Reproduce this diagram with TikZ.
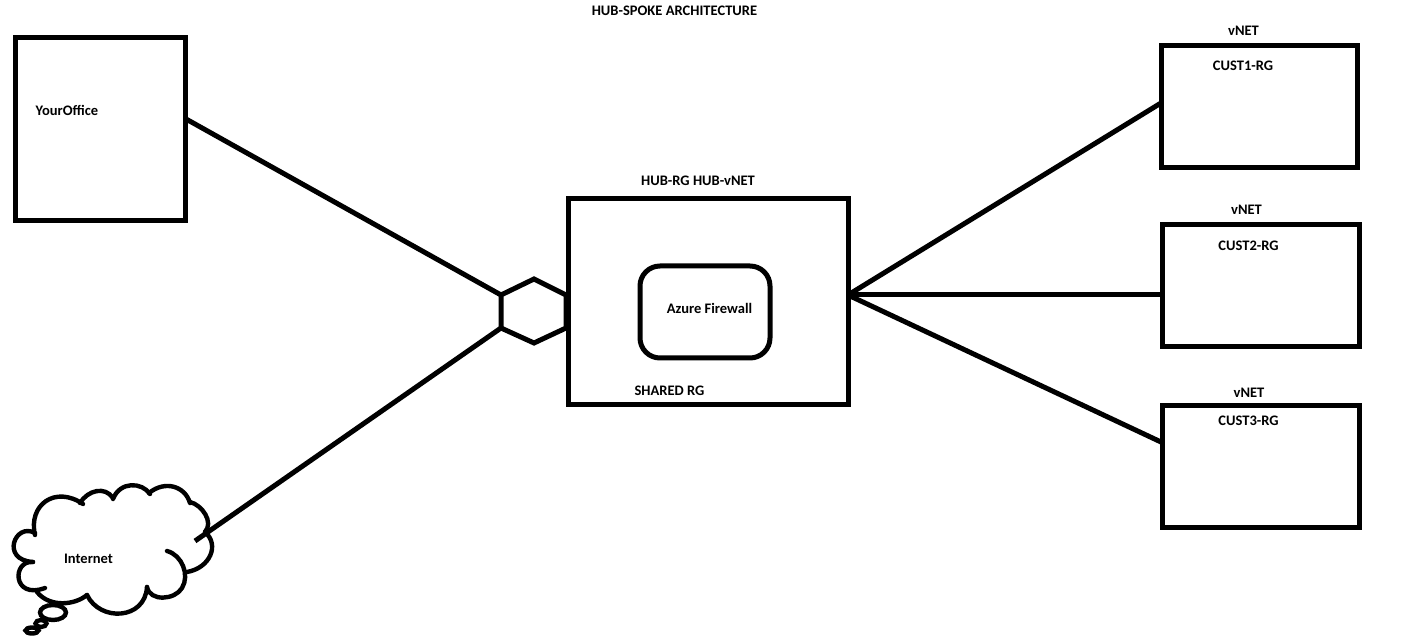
\documentclass[tikz,border=0pt]{standalone}
\usepackage{fontspec}
\setmainfont{Carlito}
\tikzset{
  boxnode/.style = {draw, rectangle, line width=3.75pt, inner sep=0pt, outer sep=0pt},
  wire/.style = {line width=3.75pt},
  thinwire/.style = {line width=3.3pt, line cap=round},
  labeltext/.style = {inner sep=0pt, font=\bfseries\fontsize{10.9}{13}\selectfont}
}
\begin{document}
\begin{tikzpicture}[x=0.75pt, y=-0.75pt]
\useasboundingbox (0,0) rectangle (1404,641);

\node[boxnode, minimum width=127.5pt, minimum height=137.25pt] (office) at (100.5,129.5) {};
\node[boxnode, minimum width=210pt, minimum height=154.5pt] (hub) at (708,302) {};
\node[boxnode, rounded corners=15pt, minimum width=97.5pt, minimum height=69pt] (firewall) at (705,312) {};
\node[boxnode, minimum width=147pt, minimum height=91.5pt] (cust1) at (1259.5,106.5) {};
\node[boxnode, minimum width=147.75pt, minimum height=91.5pt] (cust2) at (1260.5,286) {};
\node[boxnode, minimum width=147.75pt, minimum height=91.5pt] (cust3) at (1260.5,467) {};

% hexagon
\coordinate (hexa) at (501,295);
\coordinate (hexb) at (534,279);
\coordinate (hexc) at (566,295);
\coordinate (hexd) at (566,328);
\coordinate (hexe) at (534,343);
\coordinate (hexf) at (501,328);
\draw[wire] (hexa) -- (hexb) -- (hexc) -- (hexd) -- (hexe) -- (hexf) -- cycle;

% cloud
\draw[thinwire] (35,533) .. controls (15,522) and (0,560) .. (33,562);
\draw[thinwire] (33,562) .. controls (12,560) and (12,600) .. (45,588);
\draw[thinwire] (35,535) .. controls (28,505) and (55,485) .. (83,504);
\draw[thinwire] (80,503) .. controls (88,490) and (105,486) .. (113,498);
\draw[thinwire] (113,499) .. controls (120,481) and (142,482) .. (150,494);
\draw[thinwire] (149,493) .. controls (165,480) and (185,486) .. (190,503);
\draw[thinwire] (190,502) .. controls (202,505) and (214,522) .. (205,532);
\draw[thinwire] (205,532) .. controls (220,545) and (210,568) .. (187,572);
\draw[thinwire] (167,551) .. controls (182,555) and (190,575) .. (182,588) .. controls (175,600) and (150,602) .. (147,587);
\draw[thinwire] (147,587) .. controls (145,620) and (100,622) .. (87,595);
\draw[thinwire] (87,595) .. controls (75,605) and (50,608) .. (37,592);

% thought bubbles
\draw[thinwire] (53,612.5) ellipse (13 and 7.5);
\draw[thinwire] (41,623.5) ellipse (5.5 and 3.5);
\draw[thinwire] (32,630.5) ellipse (6.5 and 3);

% connectors
\coordinate (officeport) at (186,119);
\coordinate (cloudport) at (195,541);
\coordinate (hubport) at (848,295);
\coordinate (cust1port) at (1161,103);
\coordinate (cust2port) at (1161,295);
\coordinate (cust3port) at (1161,442);
\draw[wire] (officeport) -- (hexa);
\draw[wire] (cloudport) -- (hexf);
\draw[wire] (hubport) -- (cust1port);
\draw[wire] (hubport) -- (cust2port);
\draw[wire] (hubport) -- (cust3port);

% labels
\node[labeltext] (title) at (674.5,10.5) {HUB-SPOKE ARCHITECTURE};
\node[labeltext] (officelabel) at (67,110) {YourOffice};
\node[labeltext] (internetlabel) at (88.5,558.5) {Internet};
\node[labeltext] (hublabel) at (698,180.5) {HUB-RG HUB-vNET};
\node[labeltext] (firewalllabel) at (709.5,308.5) {Azure Firewall};
\node[labeltext] (sharedlabel) at (669.5,390.5) {SHARED RG};
\node[labeltext] (vneta) at (1243.5,31) {vNET};
\node[labeltext] (custa) at (1243,65.5) {CUST1-RG};
\node[labeltext] (vnetb) at (1246.5,210) {vNET};
\node[labeltext] (custb) at (1248.5,246) {CUST2-RG};
\node[labeltext] (vnetc) at (1249,393) {vNET};
\node[labeltext] (custc) at (1248.5,421) {CUST3-RG};
\end{tikzpicture}
\end{document}
